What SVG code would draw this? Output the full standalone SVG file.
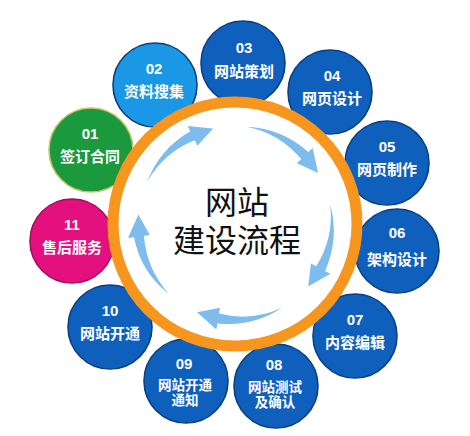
<svg xmlns="http://www.w3.org/2000/svg" width="470" height="436" viewBox="0 0 470 436">
<style>
.n circle{stroke-width:1.6}
.dk{fill:#0f5fbd;stroke:#0a3f82}
.num{font-family:"Liberation Sans","Noto Sans CJK SC",sans-serif;font-weight:bold;font-size:15px;fill:#fff;text-anchor:middle}
.lb{font-family:"Noto Sans CJK SC",sans-serif;font-weight:bold;font-size:15px;fill:#fff;text-anchor:middle}
.lb2{font-family:"Noto Sans CJK SC",sans-serif;font-weight:bold;font-size:13.5px;fill:#fff;text-anchor:middle}
.ctr{font-family:"Noto Sans CJK SC",sans-serif;font-size:32px;fill:#111;text-anchor:middle}
.arr{fill:#7fbcee}
</style>
<rect width="470" height="436" fill="#fff"/>
<g id="n01" class="n"><circle cx="91" cy="150" r="42" fill="#1a9a3c" stroke="#c9c26a"/><text class="num" x="90" y="139">01</text><text class="lb" x="90" y="162">签订合同</text></g>
<g id="n02" class="n"><circle cx="155" cy="85" r="42" fill="#1a98e6" stroke="#0d3f78"/><text class="num" x="154" y="74">02</text><text class="lb" x="154" y="97">资料搜集</text></g>
<g id="n03" class="n"><circle cx="243" cy="63" r="42" class="dk"/><text class="num" x="244" y="53">03</text><text class="lb" x="244" y="77">网站策划</text></g>
<g id="n04" class="n"><circle cx="330" cy="92" r="42" class="dk"/><text class="num" x="332" y="81">04</text><text class="lb" x="332" y="104">网页设计</text></g>
<g id="n05" class="n"><circle cx="387" cy="163" r="42" class="dk"/><text class="num" x="387" y="152">05</text><text class="lb" x="387" y="175">网页制作</text></g>
<g id="n06" class="n"><circle cx="397" cy="251" r="42" class="dk"/><text class="num" x="397" y="238">06</text><text class="lb" x="397" y="265">架构设计</text></g>
<g id="n07" class="n"><circle cx="355" cy="336" r="42" class="dk"/><text class="num" x="355" y="325">07</text><text class="lb" x="355" y="348">内容编辑</text></g>
<g id="n08" class="n"><circle cx="276" cy="386" r="42" class="dk"/><text class="num" x="274" y="370">08</text><text class="lb2" x="275" y="392">网站测试</text><text class="lb2" x="275" y="407">及确认</text></g>
<g id="n09" class="n"><circle cx="186" cy="381" r="42" class="dk"/><text class="num" x="184" y="369">09</text><text class="lb2" x="185" y="390">网站开通</text><text class="lb2" x="185" y="405">通知</text></g>
<g id="n10" class="n"><circle cx="110" cy="327" r="42" class="dk"/><text class="num" x="110" y="316">10</text><text class="lb" x="110" y="339">网站开通</text></g>
<g id="n11" class="n"><circle cx="72" cy="241" r="42" fill="#e5107f" stroke="#a80a5c"/><text class="num" x="72" y="230">11</text><text class="lb" x="72" y="253">售后服务</text></g>
<g id="hub">
<circle cx="235" cy="224" r="122" fill="#fff" stroke="#f7961e" stroke-width="11"/>
<text class="ctr" x="237" y="214">网站</text>
<text class="ctr" x="237" y="252">建设流程</text>
</g>
<g id="connectors">
<path class="arr" d="M147.1,182 A99,99 0 0 1 190.3,131.3 L187.7,125.9 L213.2,128.5 L197.3,145.7 L194.7,140.3 A95,95 0 0 0 147.1,182 Z"/>
<path class="arr" d="M246.8,126.7 A99,99 0 0 1 308.4,152.1 L312.7,148 L318.1,173 L296.9,163.3 L301.2,159.1 A95,95 0 0 0 246.8,126.7 Z"/>
<path class="arr" d="M330.2,204.5 A99,99 0 0 1 325.1,270.9 L330.4,273.7 L308.2,286.6 L310.9,263.4 L316.2,266.2 A95,95 0 0 0 330.2,204.5 Z"/>
<path class="arr" d="M282,307.8 A99,99 0 0 1 217.3,323.4 L216.3,329.4 L197.1,312.3 L220.1,307.7 L219,313.6 A95,95 0 0 0 282,307.8 Z"/>
<path class="arr" d="M168.8,293.9 A99,99 0 0 1 143.9,235.8 L149.8,235 L138.4,214.5 L128,238 L134,237.2 A95,95 0 0 0 168.8,293.9 Z"/>
</g>
</svg>
